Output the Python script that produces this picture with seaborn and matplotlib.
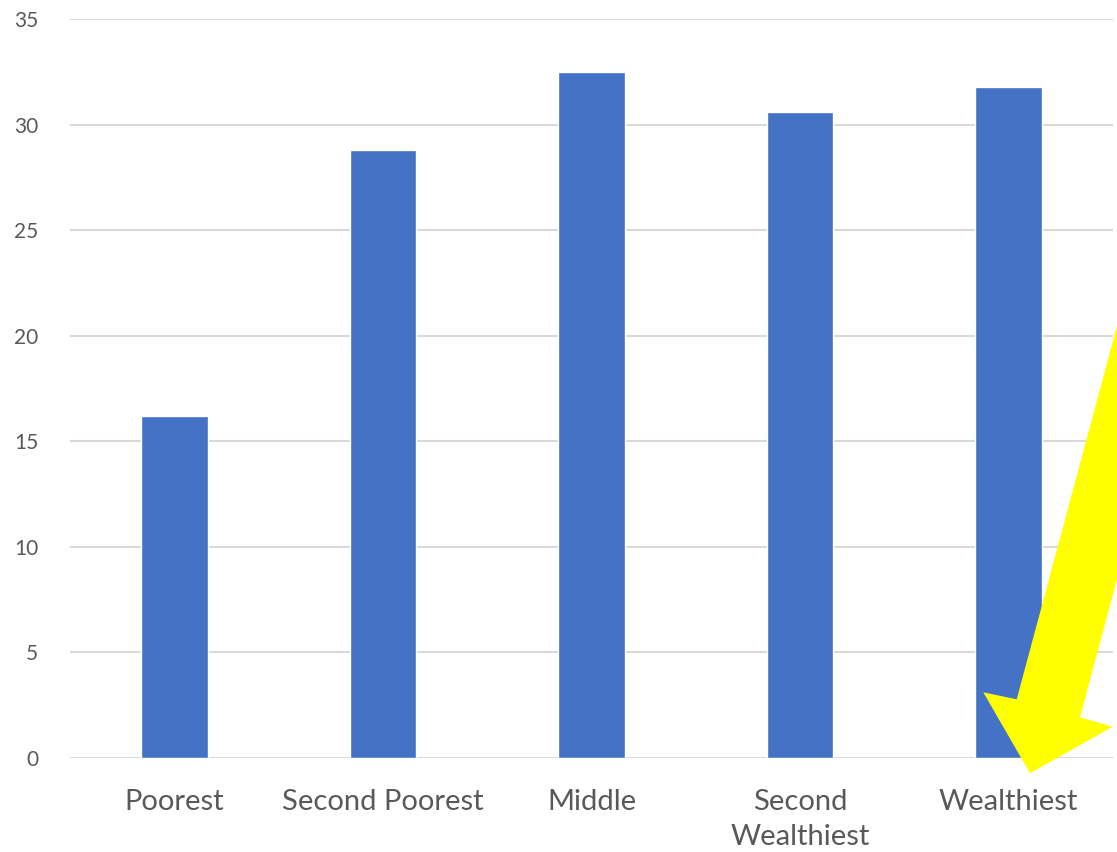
import seaborn as sns
import pandas as pd
import matplotlib.pyplot as plt
from matplotlib.patches import Polygon

# wealth quintiles and values
categories = ["Poorest", "Second Poorest", "Middle", "Second\nWealthiest", "Wealthiest"]
values = [16.2, 28.8, 32.5, 30.6, 31.8]
y_ticks = [0, 5, 10, 15, 20, 25, 30, 35]

df = pd.DataFrame({"group": categories, "value": values})

sns.set_style("white")
plt.rcParams['font.family'] = ['Lato', 'DejaVu Sans']

W, H = 1117, 852
fig = plt.figure(figsize=(W / 100, H / 100), dpi=100)
ax = fig.add_axes([70 / W, 1 - 758 / H, (1113 - 70) / W, (758 - 19) / H])

sns.barplot(data=df, x="group", y="value", color="#4472C4", width=0.32,
            saturation=1, ax=ax, zorder=3)

ax.set_ylim(0, 35)
ax.set_xlim(-0.5, 4.5)
ax.set_yticks(y_ticks)
ax.yaxis.grid(True, color="#D9D9D9", linewidth=1.5, zorder=0)
ax.set_axisbelow(True)
for s in ax.spines.values():
    s.set_visible(False)
ax.set_xlabel("")
ax.set_ylabel("")
ax.tick_params(axis="y", length=0, pad=23, labelsize=15, labelcolor="#595959")
ax.tick_params(axis="x", length=0, pad=22, labelsize=21, labelcolor="#595959")
for lbl in ax.get_xticklabels():
    lbl.set_linespacing(1.45)

# yellow arrow annotation (pixel coords, y from top)
arrow_px = [(1124, 300), (1016.7, 699.3), (983.3, 692.3), (1030, 773.3),
            (1112.7, 726.7), (1080, 717.3), (1192, 300)]
arrow = Polygon([(x / W, 1 - y / H) for x, y in arrow_px], closed=True,
                facecolor="#FFFF00", edgecolor="none",
                transform=fig.transFigure, zorder=10, clip_on=False)
fig.patches.append(arrow)

fig.savefig("out.png", dpi=100)
